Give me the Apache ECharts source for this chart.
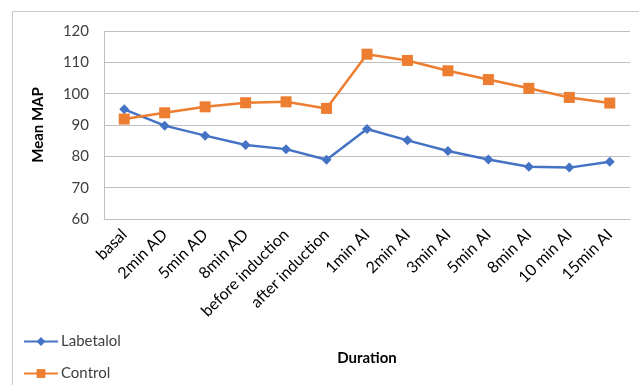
<!DOCTYPE html>
<html>
<head>
<meta charset="utf-8">
<script src="https://cdn.jsdelivr.net/npm/echarts@6/dist/echarts.min.js"></script>
<style>
  html, body { margin: 0; padding: 0; background: #fff; }
  #chart { width: 639px; height: 385px; }
</style>
</head>
<body>
<div id="chart"></div>
<script>
// Time points of the study
const categories = ['basal', '2min AD', '5min AD', '8min AD', 'before induction', 'after induction',
  '1min AI', '2min AI', '3min AI', '5min AI', '8min AI', '10 min AI', '15min AI'];

// Mean arterial pressure per group
const labetalol = [95.0, 89.8, 86.6, 83.6, 82.3, 78.9, 88.7, 85.1, 81.7, 79.0, 76.7, 76.4, 78.3];
const control   = [91.9, 93.9, 95.8, 97.1, 97.4, 95.3, 112.6, 110.6, 107.3, 104.5, 101.7, 98.8, 97.0];

const yTicks = { min: 60, max: 120, interval: 10 };

const font = 'Lato, "Open Sans", sans-serif';
const chart = echarts.init(document.getElementById('chart'), null, { renderer: 'canvas' });

function legendFor(name, top) {
  return {
    left: 18,
    top: top,
    itemWidth: 34,
    itemHeight: 11,
    itemGap: 4,
    textStyle: { fontFamily: font, fontSize: 15, color: '#404040', padding: [0, 0, 0, -2] },
    data: [name]
  };
}

chart.setOption({
  animation: false,
  backgroundColor: '#fff',
  textStyle: { fontFamily: font },
  graphic: [{
    type: 'rect',
    shape: { x: 12.5, y: 11.5, width: 700, height: 400 },
    style: { fill: 'none', stroke: '#c8c8c8', lineWidth: 1 },
    silent: true
  }],
  grid: { left: 104, right: 9, top: 31, bottom: 166 },
  legend: [legendFor('Labetalol', 329), legendFor('Control', 361)],
  xAxis: {
    type: 'category',
    data: categories,
    boundaryGap: true,
    name: 'Duration',
    nameLocation: 'middle',
    nameGap: 132,
    nameTextStyle: { fontFamily: font, fontSize: 15, fontWeight: 'bold', color: '#000' },
    axisLine: { lineStyle: { color: '#bfbfbf', width: 1 } },
    axisTick: { show: false },
    axisLabel: {
      rotate: 45,
      interval: 0,
      margin: 13,
      fontFamily: font,
      fontSize: 16,
      color: '#000'
    },
    splitLine: { show: false }
  },
  yAxis: {
    type: 'value',
    min: yTicks.min,
    max: yTicks.max,
    interval: yTicks.interval,
    name: 'Mean MAP',
    nameLocation: 'middle',
    nameGap: 58,
    nameTextStyle: { fontFamily: font, fontSize: 15, fontWeight: 'bold', color: '#000' },
    axisLine: { show: true, lineStyle: { color: '#bfbfbf', width: 1 } },
    axisTick: { show: false },
    axisLabel: { margin: 15, fontFamily: font, fontSize: 15, color: '#404040' },
    splitLine: { lineStyle: { color: '#bfbfbf', width: 1 } }
  },
  series: [
    {
      name: 'Labetalol',
      type: 'line',
      data: labetalol,
      symbol: 'diamond',
      symbolSize: 10,
      itemStyle: { color: '#4472C4' },
      lineStyle: { color: '#4472C4', width: 2.5 }
    },
    {
      name: 'Control',
      type: 'line',
      data: control,
      symbol: 'rect',
      symbolSize: 11,
      itemStyle: { color: '#ED7D31' },
      lineStyle: { color: '#ED7D31', width: 2.5 }
    }
  ]
});
</script>
</body>
</html>
